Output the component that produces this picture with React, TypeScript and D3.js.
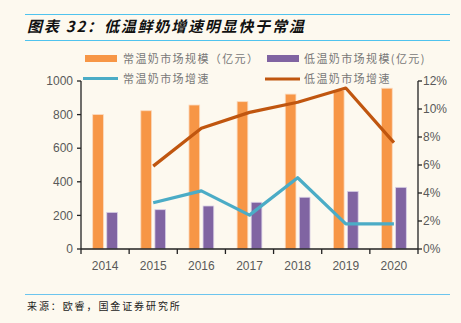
import React from 'react';
import * as d3 from 'd3';

const years = ['2014', '2015', '2016', '2017', '2018', '2019', '2020'];
const ambientSize = [800, 823, 857, 877, 922, 945, 957];
const chilledSize = [218, 234, 256, 278, 308, 343, 367];
const ambientGrowth: (number | null)[] = [null, 3.3, 4.15, 2.42, 5.09, 1.8, 1.8];
const chilledGrowth: (number | null)[] = [null, 5.92, 8.63, 9.76, 10.48, 11.5, 7.6];
const leftTicks = [0, 200, 400, 600, 800, 1000];
const rightTicks = [0, 2, 4, 6, 8, 10, 12];

const title = '图表 32：低温鲜奶增速明显快于常温';
const source = '来源：欧睿，国金证券研究所';
const legendLabels = ['常温奶市场规模（亿元）', '低温奶市场规模(亿元)', '常温奶市场增速', '低温奶市场增速'];

const C_ORANGE = '#f79646';
const C_PURPLE = '#8064a2';
const C_CYAN = '#4bacc6';
const C_BROWN = '#c0560f';
const BG = '#fdf9ef';
const NUM_FONT = '"Liberation Sans", Arial, sans-serif';
const CJK_FONT = '"Noto Sans CJK SC", sans-serif';

export default function App() {
  const W = 461, H = 323;
  const left = 81, right = 418, top = 81, bottom = 249;
  const x = d3.scaleBand().domain(years).range([left, right]).padding(0);
  const sub = d3.scaleBand().domain(['a', 'b']).range([0, x.bandwidth()]).paddingInner(0.24).paddingOuter(0.83);
  const yL = d3.scaleLinear().domain([0, 1000]).range([bottom, top]);
  const yR = d3.scaleLinear().domain([0, 12]).range([bottom, top]);

  const line = d3.line<number | null>()
    .defined(d => d !== null)
    .x((_, i) => (x(years[i]) as number) + x.bandwidth() / 2)
    .y(d => yR(d as number));

  const bw = sub.bandwidth();

  return (
    <svg width={W} height={H} style={{ position: 'absolute', left: 0, top: 0, background: BG }}>
      <rect x={0} y={0} width={W} height={H} fill={BG} />
      {/* header */}
      <line x1={25} x2={450} y1={14.5} y2={14.5} stroke="#4fc3ee" strokeWidth={1.2} />
      <text x={27} y={32} fontFamily={CJK_FONT} fontSize={15} fontWeight="bold" fontStyle="italic" letterSpacing={1.8} fill="#111">{title}</text>
      <line x1={25} x2={450} y1={40.5} y2={40.5} stroke="#4fc3ee" strokeWidth={1.2} />

      {/* legend */}
      <rect x={85} y={55} width={32} height={7} fill={C_ORANGE} />
      <text x={123} y={63} fontFamily={CJK_FONT} fontSize={11} letterSpacing={1.4} fill="#777">{legendLabels[0]}</text>
      <rect x={267} y={55} width={32} height={7} fill={C_PURPLE} />
      <text x={304} y={63} fontFamily={CJK_FONT} fontSize={11} letterSpacing={1.4} fill="#777">{legendLabels[1]}</text>
      <line x1={83} x2={118} y1={78.5} y2={78.5} stroke={C_CYAN} strokeWidth={3} />
      <text x={123} y={83} fontFamily={CJK_FONT} fontSize={11} letterSpacing={1.4} fill="#777">{legendLabels[2]}</text>
      <line x1={265} x2={300} y1={79} y2={79} stroke={C_BROWN} strokeWidth={3} />
      <text x={304} y={83} fontFamily={CJK_FONT} fontSize={11} letterSpacing={1.4} fill="#777">{legendLabels[3]}</text>

      {/* bars */}
      {years.map((yr, i) => (
        <g key={yr}>
          <rect x={(x(yr) as number) + (sub('a') as number)} y={yL(ambientSize[i])} width={bw} height={bottom - yL(ambientSize[i])} fill={C_ORANGE} stroke="#fbd9bd" strokeWidth={0.8} />
          <rect x={(x(yr) as number) + (sub('b') as number)} y={yL(chilledSize[i])} width={bw} height={bottom - yL(chilledSize[i])} fill={C_PURPLE} stroke="#d9d0e6" strokeWidth={0.8} />
        </g>
      ))}

      {/* lines */}
      <path d={line(ambientGrowth) || ''} fill="none" stroke={C_CYAN} strokeWidth={3.2} strokeLinejoin="round" />
      <path d={line(chilledGrowth) || ''} fill="none" stroke={C_BROWN} strokeWidth={3.2} strokeLinejoin="round" />

      {/* left axis */}
      <line x1={left} x2={left} y1={top} y2={bottom} stroke="#222" strokeWidth={1.3} />
      {leftTicks.map(t => (
        <g key={t}>
          <line x1={left - 4} x2={left} y1={yL(t)} y2={yL(t)} stroke="#222" strokeWidth={1.3} />
          <text x={73} y={yL(t)} dy="0.35em" textAnchor="end" fontFamily={NUM_FONT} fontSize={12} fill="#595959">{t}</text>
        </g>
      ))}
      {/* right axis */}
      <line x1={right} x2={right} y1={top} y2={bottom} stroke="#222" strokeWidth={1.3} />
      {rightTicks.map(t => (
        <g key={t}>
          <line x1={right} x2={right + 4} y1={yR(t)} y2={yR(t)} stroke="#222" strokeWidth={1.3} />
          <text x={423} y={yR(t)} dy="0.35em" textAnchor="start" fontFamily={NUM_FONT} fontSize={12} fill="#595959">{t + '%'}</text>
        </g>
      ))}
      {/* x axis */}
      <line x1={left} x2={right} y1={bottom} y2={bottom} stroke="#222" strokeWidth={1.3} />
      {[...years.map(yr => x(yr) as number), right].map((v, i) => (
        <line key={i} x1={v} x2={v} y1={bottom} y2={bottom + 5} stroke="#222" strokeWidth={1.3} />
      ))}
      {years.map(yr => (
        <text key={yr} x={(x(yr) as number) + x.bandwidth() / 2} y={270} textAnchor="middle" fontFamily={NUM_FONT} fontSize={12} fill="#595959">{yr}</text>
      ))}

      {/* footer */}
      <line x1={25} x2={450} y1={294.5} y2={294.5} stroke="#6cc5ee" strokeWidth={1.2} />
      <text x={27} y={310} fontFamily={CJK_FONT} fontSize={10} letterSpacing={1.9} fill="#222">{source}</text>
    </svg>
  );
}
